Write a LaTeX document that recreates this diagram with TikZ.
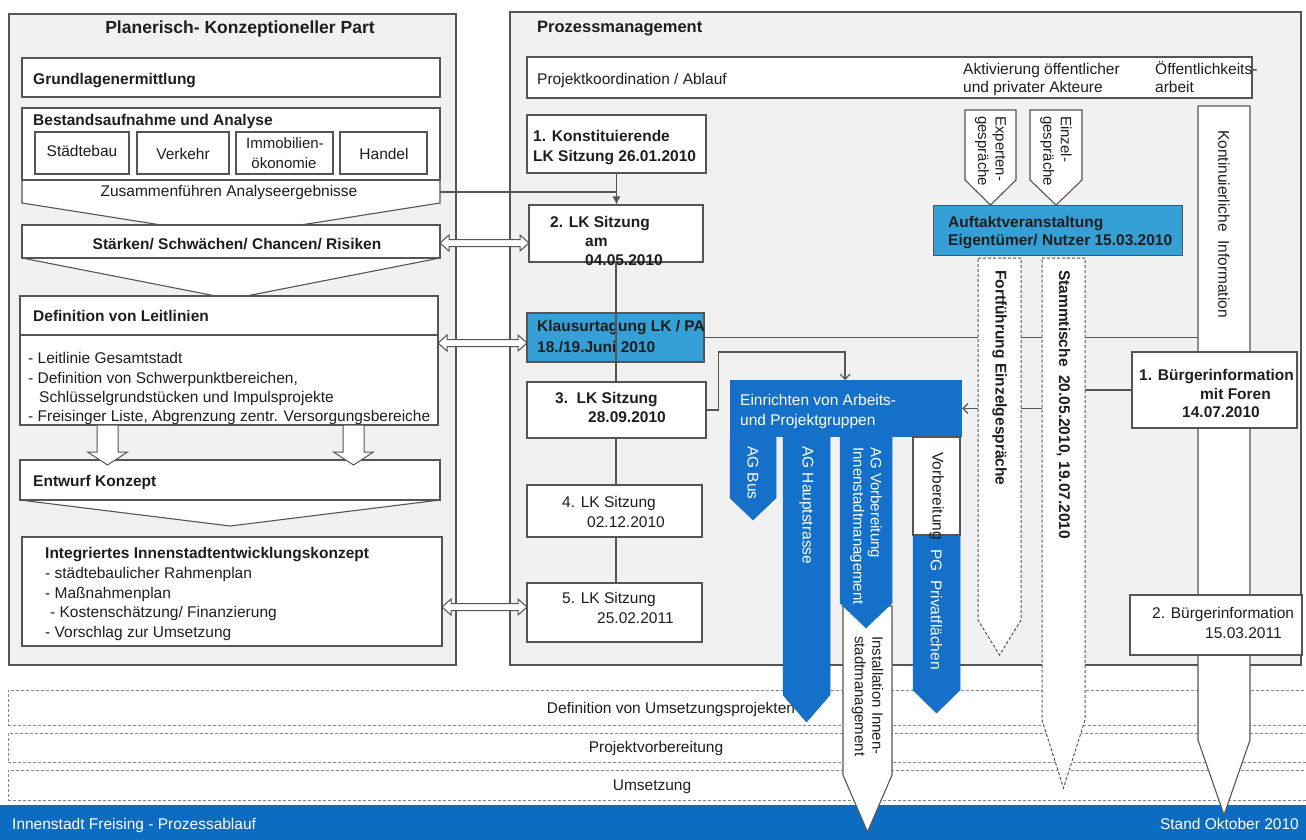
\documentclass[tikz,border=0pt]{standalone}
\usepackage{fontspec}
\setmainfont{Liberation Sans}
\usetikzlibrary{arrows.meta,fit,calc}
\definecolor{dblue}{RGB}{20,112,200}
\definecolor{lblue}{RGB}{52,160,214}
\definecolor{footblue}{RGB}{12,108,194}
\definecolor{panelc}{RGB}{241,241,241}
\definecolor{edgec}{RGB}{85,85,85}
\definecolor{txtc}{RGB}{30,30,30}
\newcommand{\nf}{\fontsize{15.5}{19}\selectfont}
\newcommand{\vf}{\fontsize{15}{17.5}\selectfont}
\newcommand{\mytl}[5]{\node[#1, anchor=base west] (#2) at (#3,#4) {#5};}
\newcommand{\myvarr}[6]{\filldraw[#1] (#2,#4) -- (#3,#4) -- (#3,#5) -- ({(#2+#3)/2},#6) -- (#2,#5) -- cycle;}
\newcommand{\myharr}[3]{\filldraw[blk] (#1,#3) -- (#1+9,#3-8) -- (#1+9,#3-3.5) -- (#2-9,#3-3.5) -- (#2-9,#3-8) -- (#2,#3) -- (#2-9,#3+8) -- (#2-9,#3+3.5) -- (#1+9,#3+3.5) -- (#1+9,#3+8) -- cycle;}
\newcommand{\mydarr}[4]{\filldraw[blk] (#1-10.5,#2) -- (#1+10.5,#2) -- (#1+10.5,#3) -- (#1+20,#3) -- (#1,#4) -- (#1-20,#3) -- (#1-10.5,#3) -- cycle;}
\begin{document}
\begin{tikzpicture}[x=1pt,y=-1pt,
  box/.style={draw=edgec, line width=1.1pt, fill=white, inner sep=0pt},
  txt/.style={font=\nf, text=txtc, inner sep=0pt},
  btxt/.style={font=\nf\bfseries, text=txtc, inner sep=0pt},
  wtxt/.style={font=\nf, text=white, inner sep=0pt},
  conn/.style={draw=edgec, line width=1.1pt},
  blk/.style={draw=edgec, line width=1pt, fill=white},
  band/.style={draw=edgec!70, dash pattern=on 3pt off 2pt, line width=0.9pt, fill=white, inner sep=0pt},
  barr/.style={fill=dblue, draw=dblue, line width=0.5pt},
  warr/.style={fill=white, draw=edgec, line width=1.1pt},
  darr/.style={fill=white, draw=edgec, line width=1pt, dash pattern=on 3pt off 2pt},
  vt/.style={rotate=-90, anchor=west, inner sep=0pt, align=left, text=txtc},
  barb/.style={-{Straight Barb[length=5pt,width=10pt]}},
]
\useasboundingbox (0,0) rectangle (1306,840);
\fill[white] (0,0) rectangle (1306,840);
% footer and bands
\node[fill=footblue, inner sep=0pt, fit={(0,805) (1306,840)}] (footer) {};
\node[wtxt, anchor=base west] (footl) at (12,829) {Innenstadt Freising - Prozessablauf};
\node[wtxt, anchor=base east] (footr) at (1299,829) {Stand Oktober 2010};
\node[band, fit={(8,690) (1316,725)}] (band1) {};
\node[band, fit={(8,733) (1316,762)}] (band2) {};
\node[band, fit={(8,770) (1316,800)}] (band3) {};
\node[txt, anchor=base] (band1t) at (671,713) {Definition von Umsetzungsprojekten};
\node[txt, anchor=base] (band2t) at (656,752) {Projektvorbereitung};
\node[txt, anchor=base] (band3t) at (652,790) {Umsetzung};
% panels
\node[draw=edgec, line width=1.1pt, fill=panelc, inner sep=0pt, fit={(9,14) (456,665)}] (lpanel) {};
\node[draw=edgec, line width=1.1pt, fill=panelc, inner sep=0pt, fit={(510,12) (1301,665)}] (rpanel) {};
\node[btxt, font=\fontsize{17.5}{21}\selectfont\bfseries, anchor=base] (lptitle) at (240,34) {Planerisch- Konzeptioneller Part};
\node[btxt, font=\fontsize{16.5}{20}\selectfont\bfseries, anchor=base west] (rptitle) at (537,33) {Prozessmanagement};
% ---- left panel
\node[box, fit={(22,58) (440,97)}] (grund) {};
\mytl{btxt}{grundt}{33}{85}{Grundlagenermittlung}
\filldraw[box] (22,180) -- (440,180) -- (440,203) -- (231,236) -- (22,203) -- cycle;
\coordinate (zusE) at (440,192);
\node[txt, anchor=base] (zust) at (229,196) {Zusammenführen Analyseergebnisse};
\node[box, fit={(22,108) (440,180)}] (best) {};
\mytl{btxt}{bestt}{33}{126}{Bestandsaufnahme und Analyse}
\node[box, fit={(35,132) (129,174)}] (sb1) {};
\node[txt, anchor=base] (sb1t) at (82,157) {Städtebau};
\node[box, fit={(137,132) (229,174)}] (sb2) {};
\node[txt, anchor=base] (sb2t) at (183,159) {Verkehr};
\node[box, fit={(236,132) (333,174)}] (sb3) {};
\node[txt, font=\vf, anchor=base] (sb3a) at (285,149) {Immobilien-};
\node[txt, font=\vf, anchor=base] (sb3b) at (284,168) {ökonomie};
\node[box, fit={(340,132) (427,174)}] (sb4) {};
\node[txt, anchor=base] (sb4t) at (384,159) {Handel};
\filldraw[box] (22,258) -- (440,258) -- (231,299) -- cycle;
\node[box, fit={(22,225) (440,258)}] (stark) {};
\node[btxt, anchor=base] (starkt) at (237,249) {Stärken/ Schwächen/ Chancen/ Risiken};
\node[box, fit={(20,296) (438,425)}] (def) {};
\draw[conn] (20,335) -- (438,335);
\mytl{btxt}{deft}{33}{321}{Definition von Leitlinien}
\mytl{txt}{def1}{28}{363}{- Leitlinie Gesamtstadt}
\mytl{txt}{def2}{28}{383}{- Definition von Schwerpunktbereichen,}
\mytl{txt}{def3}{39}{402}{Schlüsselgrundstücken und Impulsprojekte}
\mytl{txt}{def4}{28}{421}{- Freisinger Liste, Abgrenzung zentr. Versorgungsbereiche}
\filldraw[box] (20,500) -- (440,500) -- (230,526) -- cycle;
\node[box, fit={(20,460) (440,500)}] (entw) {};
\mytl{btxt}{entwt}{33}{486}{Entwurf Konzept}
\mydarr{107.5}{425}{452}{465}
\mydarr{353.5}{425}{452}{465}
\node[box, fit={(22,537) (442,646)}] (integ) {};
\mytl{btxt}{integt}{45}{558}{Integriertes Innenstadtentwicklungskonzept}
\mytl{txt}{integ1}{45}{578}{- städtebaulicher Rahmenplan}
\mytl{txt}{integ2}{45}{598}{- Maßnahmenplan}
\mytl{txt}{integ3}{50}{617}{- Kostenschätzung/ Finanzierung}
\mytl{txt}{integ4}{45}{637}{- Vorschlag zur Umsetzung}
% ---- right panel
\node[box, fit={(527,57) (1252,98)}] (proj) {};
\mytl{txt}{projt}{537}{85}{Projektkoordination / Ablauf}
\mytl{txt}{akt1}{963}{75}{Aktivierung öffentlicher}
\mytl{txt}{akt2}{963}{93}{und privater Akteure}
\mytl{txt}{oef1}{1155}{75}{Öffentlichkeits-}
\mytl{txt}{oef2}{1155}{93}{arbeit}
\node[box, fit={(527,115) (706,173)}] (lk1) {};
\mytl{btxt}{lk1a}{533}{142}{1. Konstituierende}
\mytl{btxt}{lk1b}{533}{161}{LK Sitzung 26.01.2010}
\node[box, fit={(529,205) (703,262)}] (lk2) {};
\mytl{btxt}{lk2a}{550}{227}{2. LK Sitzung}
\mytl{btxt}{lk2b}{585}{246}{am}
\mytl{btxt}{lk2c}{585}{265}{04.05.2010}
\draw[conn, -{Latex[length=8pt,width=8pt]}] (lk1.south) -- (lk1.south |- lk2.north);
\draw[conn] (zusE) -- (zusE -| lk2.north);
\node[box, fill=lblue, fit={(527,313) (704,362)}] (klaus) {};
\mytl{btxt}{klausa}{537}{331}{Klausurtagung LK / PA}
\mytl{btxt}{klausb}{537}{352}{18./19.Juni 2010}
\node[box, fit={(527,382) (706,438)}] (lk3) {};
\draw[conn] (lk2.south) -- (lk2.south |- lk3.north);
\mytl{btxt}{lk3a}{555}{403}{3.\ \ LK Sitzung}
\mytl{btxt}{lk3b}{588}{422}{28.09.2010}
\node[box, fit={(527,485) (702,537)}] (lk4) {};
\mytl{txt}{lk4a}{562}{507}{4. LK Sitzung}
\mytl{txt}{lk4b}{587}{527}{02.12.2010}
\node[box, fit={(527,583) (702,642)}] (lk5) {};
\mytl{txt}{lk5a}{562}{603}{5. LK Sitzung}
\mytl{txt}{lk5b}{597}{623}{25.02.2011}
\draw[conn] (lk3.south -| lk2.south) -- (lk4.north -| lk2.south);
\draw[conn] (lk4.south -| lk2.south) -- (lk5.north -| lk2.south);
% block double arrows
\myharr{440}{529}{243}
\myharr{438}{527}{343}
\myharr{442}{527}{607}
% Einrichten
\node[fill=dblue, inner sep=0pt, fit={(730,380) (962,437)}] (einr) {};
\mytl{wtxt}{einra}{740}{405}{Einrichten von Arbeits-}
\mytl{wtxt}{einrb}{740}{425}{und Projektgruppen}
\coordinate (einrIn) at (845,380);
\draw[conn, barb] (lk3.east) -- ++(12,0) |- ([yshift=28pt]einrIn) -- (einrIn);
\myvarr{barr}{730}{776}{437}{498}{520}
\myvarr{barr}{783}{830}{437}{695}{722}
\myvarr{warr}{843}{892}{606}{775}{832}
\myvarr{barr}{840}{892}{437}{603}{628}
\myvarr{barr}{913}{960}{437}{690}{713}
\filldraw[warr] (913,437) rectangle (960,535);
\node[vt, font=\nf, text=white] (agbust) at (753,446) {AG Bus};
\node[vt, font=\nf, text=white] (aghauptt) at (806.5,446) {AG Hauptstrasse};
\node[vt, font=\vf, text=white] (agvort) at (866,447) {AG Vorbereitung\\Innenstadtmanagement};
\node[vt, font=\vf] (instt) at (867.5,636) {Installation Innen-\\stadtmanagement};
\node[vt, font=\nf] (vorpga) at (936.5,452) {Vorbereitung};
\node[vt, font=\nf, text=white] (vorpgb) at (936.5,549) {PG\ \ Privatflächen};
% right columns
\myvarr{warr}{965}{1016}{110}{180}{205}
\myvarr{warr}{1030}{1082}{110}{180}{205}
\node[vt, font=\vf] (expt) at (990.5,116) {Experten-\\gespräche};
\node[vt, font=\vf] (einzt) at (1056,116) {Einzel-\\gespräche};
\node[box, fill=lblue, line width=0.6pt, fit={(933,205) (1182,255)}] (auft) {};
\mytl{btxt}{aufta}{948}{227}{Auftaktveranstaltung}
\mytl{btxt}{auftb}{948}{245}{Eigentümer/ Nutzer 15.03.2010}
\myvarr{warr}{1198}{1250}{106}{740}{815}
\node[vt, font=\nf] (kontt) at (1224,130) {Kontinuierliche\ \ Information};
\node[box, fit={(1132,352) (1297,428)}] (bi1) {};
\mytl{btxt}{bi1a}{1139}{380}{1. Bürgerinformation}
\mytl{btxt}{bi1b}{1200}{399}{mit Foren}
\mytl{btxt}{bi1c}{1182}{417}{14.07.2010}
\node[box, fit={(1130,595) (1302,655)}] (bi2) {};
\mytl{txt}{bi2a}{1152}{618}{2. Bürgerinformation}
\mytl{txt}{bi2b}{1205}{638}{15.03.2011}
\coordinate (kontL) at (1198,337.5);
\draw[conn] (klaus.east) -- (kontL);
\draw[conn, barb] (bi1.west) -- ++(-69,0) |- (einr.east);
\myvarr{darr}{978}{1021}{258}{620}{655}
\myvarr{darr}{1042}{1085}{258}{720}{788}
\node[vt, font=\nf\bfseries] (fortt) at (999.5,270) {Fortführung Einzelgespräche};
\node[vt, font=\nf\bfseries] (stammt) at (1063.5,270) {Stammtische\ \ 20.05.2010, 19.07.2010};
\end{tikzpicture}
\end{document}
